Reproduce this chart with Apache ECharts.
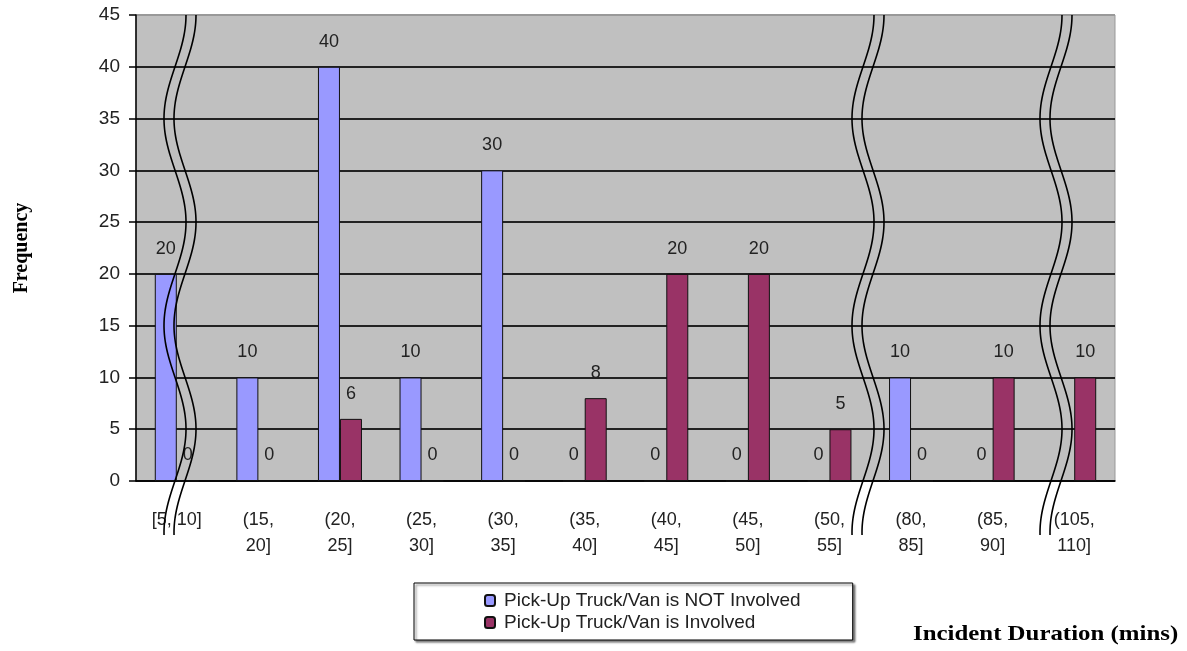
<!DOCTYPE html>
<html>
<head>
<meta charset="utf-8">
<script src="https://cdn.jsdelivr.net/npm/echarts@6/dist/echarts.min.js"></script>
<style>
  html, body { margin: 0; padding: 0; background: #fff; }
  #chart { width: 1187px; height: 651px; }
</style>
</head>
<body>
<div id="chart"></div>
<script>
// durées (minutes) et fréquences
const categories = ['[5, 10]', '(15,\n20]', '(20,\n25]', '(25,\n30]', '(30,\n35]', '(35,\n40]',
                    '(40,\n45]', '(45,\n50]', '(50,\n55]', '(80,\n85]', '(85,\n90]', '(105,\n110]'];
const notInvolved = [20, 10, 40, 10, 30, 0, 0, 0, 0, 10, 0, '-'];
const involved = [0, 0, 6, 0, 0, 8, 20, 20, 5, 0, 10, 10];
const yTicks = { min: 0, max: 45, interval: 5 };

// centre x des coupures d'axe (décor), en pixels
const breaks = [175, 863, 1051];

const chart = echarts.init(document.getElementById('chart'));

function wave(cx) {
    // ligne ondulée de haut en bas du graphique
    let pts = [];
    for (let y = 15; y <= 535; y += 4) {
        pts.push([cx + 11 * Math.cos(2 * Math.PI * (y - 15) / 207), y]);
    }
    return pts;
}

let graphics = [];
breaks.forEach(cx => {
    [0, 10].forEach(dx => {
        graphics.push({
            type: 'polyline',
            shape: { points: wave(cx + dx), smooth: 0.3 },
            style: { stroke: '#000', lineWidth: 1.6, fill: null },
            z: 100
        });
    });
});
graphics.push({
    type: 'text',
    x: 913,
    y: 623,
    scaleX: 1.13,
    style: {
        text: 'Incident Duration (mins)',
        font: 'bold 22px "Liberation Serif"',
        fill: '#000'
    }
});

const labelStyle = {
    show: true,
    position: 'top',
    distance: 16,
    fontFamily: 'Liberation Sans',
    fontSize: 18,
    color: '#222'
};

let options = {
    animation: false,
    grid: {
        left: 136,
        right: 72,
        top: 15,
        bottom: 170,
        show: true,
        backgroundColor: '#C0C0C0',
        borderColor: '#999',
        borderWidth: 1
    },
    legend: {
        orient: 'vertical',
        left: 414,
        top: 583,
        data: ['Pick-Up Truck/Van is NOT Involved', 'Pick-Up Truck/Van is Involved'],
        itemWidth: 10,
        itemHeight: 11,
        itemGap: 3,
        padding: [8, 52, 8, 70],
        backgroundColor: '#fff',
        borderColor: '#000',
        borderWidth: 1,
        shadowColor: 'rgba(0,0,0,0.5)',
        shadowOffsetX: 2,
        shadowOffsetY: 2,
        shadowBlur: 2,
        textStyle: { fontFamily: 'Liberation Sans', fontSize: 19, color: '#222', padding: [0, 0, 0, 4] }
    },
    xAxis: {
        type: 'category',
        data: categories,
        axisLine: { lineStyle: { color: '#000', width: 1.5 } },
        axisTick: { length: 7, lineStyle: { color: '#000', width: 1.5 } },
        axisLabel: {
            margin: 26,
            lineHeight: 26,
            fontFamily: 'Liberation Sans',
            fontSize: 18,
            color: '#222',
            interval: 0
        }
    },
    yAxis: {
        type: 'value',
        min: yTicks.min,
        max: yTicks.max,
        interval: yTicks.interval,
        name: 'Frequency',
        nameLocation: 'middle',
        nameGap: 104,
        nameRotate: 90,
        nameTextStyle: { fontFamily: 'Liberation Serif', fontWeight: 'bold', fontSize: 20, color: '#000' },
        axisLine: { show: true, lineStyle: { color: '#000', width: 1.5 } },
        axisTick: { show: true, length: 7, lineStyle: { color: '#000', width: 1.5 } },
        axisLabel: { margin: 16, fontFamily: 'Liberation Sans', fontSize: 19, color: '#222' },
        splitLine: {
            lineStyle: {
                color: ['#222', '#222', '#222', '#222', '#222', '#222', '#222', '#222', '#222', '#999'],
                width: 2
            }
        }
    },
    series: [
        {
            name: 'Pick-Up Truck/Van is NOT Involved',
            type: 'bar',
            data: notInvolved,
            barWidth: 22,
            barGap: '0%',
            itemStyle: { color: '#9999FF', borderColor: '#111', borderWidth: 1 },
            label: labelStyle
        },
        {
            name: 'Pick-Up Truck/Van is Involved',
            type: 'bar',
            data: involved,
            barWidth: 22,
            barGap: '0%',
            itemStyle: { color: '#993366', borderColor: '#111', borderWidth: 1 },
            label: labelStyle
        }
    ],
    graphic: graphics
};

chart.setOption(options);
</script>
</body>
</html>
